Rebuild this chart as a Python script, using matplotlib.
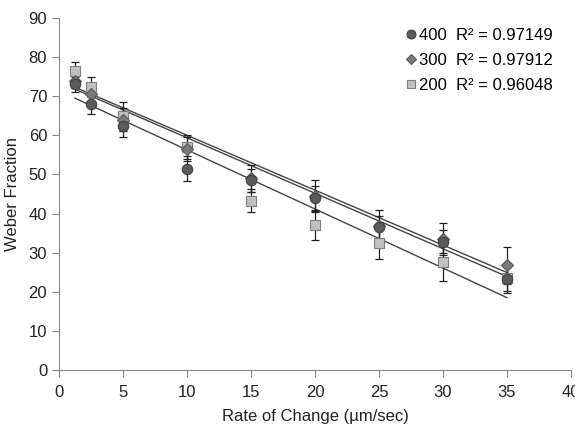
import matplotlib
matplotlib.use("Agg")
import matplotlib.pyplot as plt
import numpy as np

plt.rcParams['font.family'] = ['Liberation Sans', 'DejaVu Sans']

rate = [1.25, 2.5, 5, 10, 15, 20, 25, 30, 35]

# Средние значения по сериям
wf_400 = [73.0, 68.0, 62.5, 51.5, 48.5, 44.0, 36.5, 32.8, 23.3]
wf_300 = [74.0, 70.5, 64.0, 56.5, 49.0, 44.5, 36.7, 33.5, 26.8]
wf_200 = [76.5, 72.3, 65.0, 57.0, 43.3, 37.0, 32.5, 27.5, 23.5]

# Погрешности
err_400 = [2.0, 2.5, 3.0, 3.3, 3.0, 3.0, 3.0, 3.0, 3.0]
err_300 = [2.0, 2.5, 3.0, 3.0, 3.5, 4.0, 4.2, 4.2, 4.7]
err_200 = [2.3, 2.5, 3.5, 3.0, 3.0, 3.7, 4.0, 4.7, 3.8]

# Линии тренда (наклон, свободный член)
trend_slope = {'400': -1.419, '300': -1.404, '200': -1.511}
trend_icept = {'400': 73.57, '300': 74.06, '200': 71.39}
r2_text = {'400': 'R² = 0.97149', '300': 'R² = 0.97912', '200': 'R² = 0.96048'}

fig = plt.figure(figsize=(5.75, 4.42), dpi=100)
ax = fig.add_axes([0.1026, 0.1629, 0.8904, 0.7964])

styles = {
    '400': dict(marker='o', mfc='#5a5a5a', mec='#404040', ms=7.5),
    '300': dict(marker='D', mfc='#7a7a7a', mec='#5a5a5a', ms=6.0),
    '200': dict(marker='s', mfc='#c0c0c0', mec='#7f7f7f', ms=7.2),
}

xt = np.array([rate[0], rate[-1]])
for name in ['400', '300', '200']:
    ax.plot(xt, trend_slope[name] * xt + trend_icept[name], color='#444444', lw=1.0, zorder=1)

handles = []
for name, y, e in [('200', wf_200, err_200), ('300', wf_300, err_300), ('400', wf_400, err_400)]:
    st = styles[name]
    ax.errorbar(rate, y, yerr=e, fmt='none', ecolor='#222222', elinewidth=0.9,
                capsize=3, capthick=0.9, zorder=2)
    h, = ax.plot(rate, y, ls='none', marker=st['marker'], mfc=st['mfc'], mec=st['mec'],
                 ms=st['ms'], mew=0.8, zorder=3)
    handles.append((name, h))

order = ['400', '300', '200']
hd = dict(handles)
ax.legend([hd[n] for n in order], [n + '  ' + r2_text[n] for n in order],
          loc='upper right', bbox_to_anchor=(0.985, 1.0), frameon=False,
          fontsize=12, handletextpad=0.0, handlelength=1.0, labelspacing=0.6,
          borderaxespad=0.2, markerscale=0.85)

ax.set_xlim(0, 40)
ax.set_ylim(0, 90)
ax.set_xticks(range(0, 41, 5))
ax.set_yticks(range(0, 91, 10))
for s in ['top', 'right']:
    ax.spines[s].set_visible(False)
for s in ['left', 'bottom']:
    ax.spines[s].set_color('#868686')
ax.tick_params(direction='out', length=5, color='#868686', labelsize=12, labelcolor='#222222')
ax.tick_params(axis='x', pad=6)
ax.set_xlabel('Rate of Change (µm/sec)', fontsize=12, color='#222222', labelpad=6)
ax.set_ylabel('Weber Fraction', fontsize=12, color='#222222', labelpad=6)

fig.savefig('out.png', dpi=100)
